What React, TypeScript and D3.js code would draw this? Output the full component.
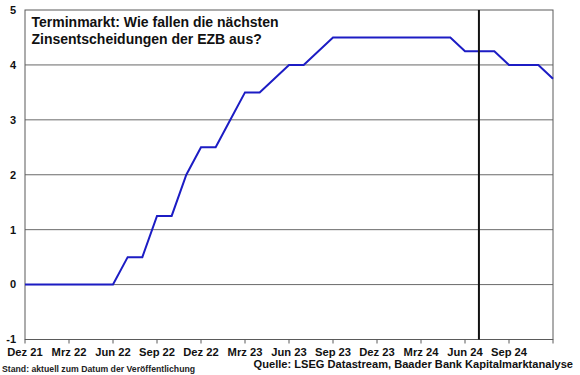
import React from "react";
import * as d3 from "d3";

const months: string[] = [
  "Dez 21","Jan 22","Feb 22","Mrz 22","Apr 22","Mai 22","Jun 22","Jul 22","Aug 22","Sep 22","Okt 22","Nov 22",
  "Dez 22","Jan 23","Feb 23","Mrz 23","Apr 23","Mai 23","Jun 23","Jul 23","Aug 23","Sep 23","Okt 23","Nov 23",
  "Dez 23","Jan 24","Feb 24","Mrz 24","Apr 24","Mai 24","Jun 24","Jul 24","Aug 24","Sep 24","Okt 24","Nov 24","Dez 24",
];

const rates: number[] = [
  0, 0, 0, 0, 0, 0, 0, 0.5, 0.5, 1.25, 1.25, 2.0,
  2.5, 2.5, 3.0, 3.5, 3.5, 3.75, 4.0, 4.0, 4.25, 4.5, 4.5, 4.5,
  4.5, 4.5, 4.5, 4.5, 4.5, 4.5, 4.25, 4.25, 4.25, 4.0, 4.0, 4.0, 3.75,
];

const yTicks: number[] = [-1, 0, 1, 2, 3, 4, 5];
const tickEvery = 3;
const todayMarkIndex = 30.95; // Stand der Veröffentlichung (month index)

const titleLines: string[] = ["Terminmarkt: Wie fallen die nächsten", "Zinsentscheidungen der EZB aus?"];
const footLeft = "Stand: aktuell zum Datum der Veröffentlichung";
const footRight = "Quelle: LSEG Datastream, Baader Bank Kapitalmarktanalyse";

const W = 580, H = 375;
const left = 25, right = 553, top = 10, bottom = 339.5;
const font = "Arial, 'Liberation Sans', Helvetica, sans-serif";

export default function App() {
  const x = d3.scaleLinear().domain([0, months.length - 1]).range([left, right]);
  const y = d3.scaleLinear().domain([-1, 5]).range([bottom, top]);
  const line = d3.line<number>().x((_, i) => x(i)).y((d) => y(d));

  const tickIdx = d3.range(0, months.length, tickEvery);

  return (
    <svg width={W} height={H} style={{ position: "absolute", left: 0, top: 0, background: "#fff" }} fontFamily={font}>
      <rect x={0} y={0} width={W} height={H} fill="#fff" />
      {yTicks.filter((t) => t !== -1 && t !== 5).map((t) => (
        <line key={t} x1={left} x2={right} y1={y(t)} y2={y(t)}
          stroke={t === 4 ? "#a8a8a8" : "#6a6a6a"} strokeWidth={t === 4 ? 1.6 : 1} />
      ))}
      <rect x={left} y={top} width={right - left} height={bottom - top} fill="none" stroke="#5a5a5a" strokeWidth={1} />
      {tickIdx.map((i) => (
        <line key={i} x1={x(i)} x2={x(i)} y1={bottom} y2={bottom + 4} stroke="#5a5a5a" strokeWidth={1} />
      ))}
      {yTicks.map((t) => (
        <text key={t} x={16} y={y(t)} dy="0.35em" textAnchor="end" fontSize={11} fontWeight="bold" fill="#111">{t}</text>
      ))}
      {tickIdx.filter((i) => i < months.length - 1).map((i) => (
        <text key={i} x={x(i)} y={356} textAnchor="middle" fontSize={11.2} fontWeight="bold" fill="#111">{months[i]}</text>
      ))}
      <path d={line(rates) || ""} fill="none" stroke="#1c1cc4" strokeWidth={2} strokeLinejoin="miter" />
      <line x1={x(todayMarkIndex)} x2={x(todayMarkIndex)} y1={top} y2={bottom} stroke="#111" strokeWidth={2} />
      {titleLines.map((s, i) => (
        <text key={i} x={31.5} y={27 + i * 16.5} fontSize={14} fontWeight="bold" fill="#111">{s}</text>
      ))}
      <text x={2} y={372} fontSize={8.7} fontWeight="bold" fill="#222">{footLeft}</text>
      <text x={573} y={368} textAnchor="end" fontSize={11.1} fontWeight="bold" fill="#111">{footRight}</text>
    </svg>
  );
}
